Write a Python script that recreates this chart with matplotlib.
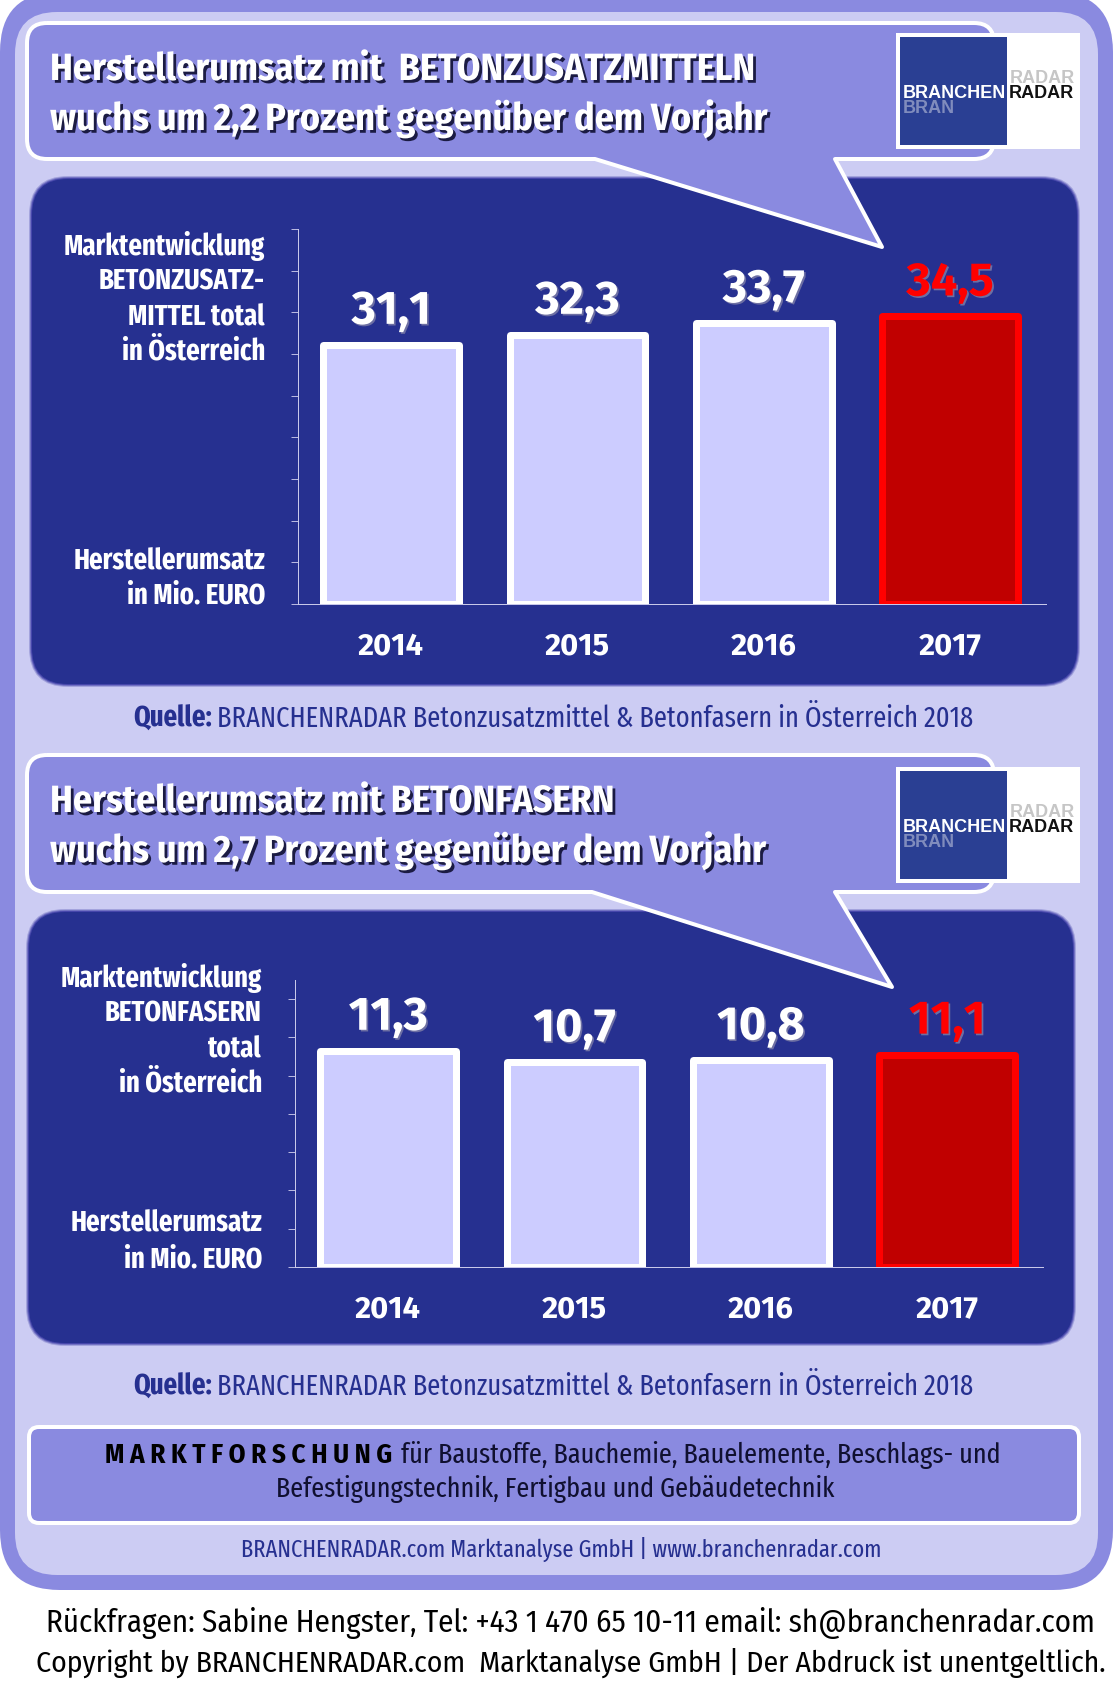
import matplotlib
matplotlib.use("Agg")
import matplotlib.pyplot as plt
import matplotlib.patheffects as pe
from matplotlib.patches import FancyBboxPatch, PathPatch, Rectangle
from matplotlib.path import Path

W, H = 1115, 1685

YEARS = ["2014", "2015", "2016", "2017"]
ZUSATZ_VALUES = [31.1, 32.3, 33.7, 34.5]
FASERN_VALUES = [11.3, 10.7, 10.8, 11.1]

ZUSATZ_LABELS = ["Marktentwicklung", "BETONZUSATZ-", "MITTEL total", "in Österreich", "Herstellerumsatz", "in Mio. EURO"]
FASERN_LABELS = ["Marktentwicklung", "BETONFASERN", "total", "in Österreich", "Herstellerumsatz", "in Mio. EURO"]
SOURCE = "BRANCHENRADAR Betonzusatzmittel & Betonfasern in Österreich 2018"

OUTER = "#8a8ae0"
INNER = "#ccccf3"
NAVY = "#263090"
BAR_FILL = "#ccccff"
RED_FILL = "#c00000"
RED = "#ff0000"

FIRA = ["Fira Sans", "Open Sans", "DejaVu Sans"]
NARROW = ["Fira Sans Condensed", "Open Sans", "DejaVu Sans"]
XNARROW = ["Fira Sans Extra Condensed", "Open Sans", "DejaVu Sans"]
LOGO_FONT = ["Liberation Sans", "DejaVu Sans"]

fig = plt.figure(figsize=(W / 100, H / 100), dpi=100, facecolor="white")
bg = fig.add_axes([0, 0, 1, 1])
bg.set_xlim(0, W)
bg.set_ylim(H, 0)
bg.axis("off")


def pt(px):
    return px * 0.72


def round_box(x0, y0, x1, y1, r, face, edge="none", lw=0, z=1, alpha=1):
    p = FancyBboxPatch((x0 + r, y0 + r), x1 - x0 - 2 * r, y1 - y0 - 2 * r,
                       boxstyle=f"round,pad={r},rounding_size={r}",
                       fc=face, ec=edge, lw=pt(lw), zorder=z, alpha=alpha)
    bg.add_patch(p)


def label(x, y, s, size, color="white", weight="normal", ha="left", shadow=None, family=NARROW, z=10, alpha=1):
    t = bg.text(x, y, s, fontsize=pt(size), color=color, fontweight=weight, ha=ha,
                va="baseline", family=family, zorder=z, alpha=alpha)
    if shadow:
        t.set_path_effects([pe.withSimplePatchShadow(offset=shadow, shadow_rgbFace="#15153a", alpha=0.95)])
    return t


def bubble(x0, y0, x1, y1, r, tail):
    a, tip, b = tail
    verts = [(x0 + r, y0), (x1 - r, y0), (x1, y0), (x1, y0 + r), (x1, y1 - r), (x1, y1), (x1 - r, y1),
             (b, y1), tip, (a, y1), (x0 + r, y1), (x0, y1), (x0, y1 - r), (x0, y0 + r), (x0, y0), (x0 + r, y0)]
    codes = [Path.MOVETO, Path.LINETO, Path.CURVE3, Path.CURVE3, Path.LINETO, Path.CURVE3, Path.CURVE3,
             Path.LINETO, Path.LINETO, Path.LINETO, Path.LINETO, Path.CURVE3, Path.CURVE3, Path.LINETO,
             Path.CURVE3, Path.CURVE3]
    bg.add_patch(PathPatch(Path(verts, codes), fc=OUTER, ec="white", lw=pt(4), joinstyle="round", zorder=4))


def soft_panel(x0, y0, x1, y1, r):
    # fake the blurred edge with a few see-through boxes
    for i, a in zip([3, 2, 1], [0.25, 0.4, 0.6]):
        round_box(x0 - i, y0 - i, x1 + i, y1 + i, r + i, "#2a2a9c", z=2, alpha=a)
    round_box(x0, y0, x1, y1, r, NAVY, z=2)


def logo(y0):
    bg.add_patch(Rectangle((896, y0), 184, 116, fc="white", ec="none", zorder=5))
    bg.add_patch(Rectangle((900, y0 + 4), 107, 108, fc="#2a3f93", ec="none", zorder=6))
    label(903, y0 + 80, "BRAN", 18, "#c8cce0", "bold", family=LOGO_FONT, z=7, alpha=0.55)
    label(1010, y0 + 50, "RADAR", 18, "#a0a0a0", "bold", family=LOGO_FONT, z=7, alpha=0.6)
    label(903, y0 + 65, "BRANCHEN", 18, "white", "bold", family=LOGO_FONT, z=8)
    label(1009, y0 + 65, "RADAR", 18, "#111111", "bold", family=LOGO_FONT, z=8)


def bar_chart(left, right, top, base, ymax, step, values):
    ax = fig.add_axes([left / W, 1 - base / H, (right - left) / W, (base - top) / H])
    ax.patch.set_alpha(0)
    colors = [BAR_FILL, BAR_FILL, BAR_FILL, RED_FILL]
    edges = ["white", "white", "white", RED]
    x = range(len(values))
    # bottom half of the border is clipped by the axes, like in the original
    ax.bar(x, values, width=0.728, color=colors, edgecolor=edges, linewidth=pt(7), joinstyle="round")
    ax.set_xlim(-0.5, 3.515)
    ax.set_ylim(0, ymax)
    ax.set_xticks(list(x), YEARS, fontsize=pt(31), fontweight="bold", color="white", family=FIRA)
    ax.set_yticks(range(0, ymax + 1, step), [])
    ax.tick_params(axis="x", length=0, pad=pt(27))
    ax.tick_params(axis="y", length=pt(7), width=pt(1), color="#b8b8e0", direction="out")
    for s in ("top", "right"):
        ax.spines[s].set_visible(False)
    for s in ("left", "bottom"):
        ax.spines[s].set_color("#c8c8ea")
        ax.spines[s].set_linewidth(pt(1))
    for i, v in enumerate(values):
        t = ax.annotate(f"{v:.1f}".replace(".", ","), (i, v), xytext=(0, pt(21)), textcoords="offset points",
                        ha="center", va="baseline", fontsize=pt(47), fontweight="bold",
                        color=RED if i == 3 else "white", family=FIRA)
        t.set_path_effects([pe.withSimplePatchShadow(offset=(1.2, -1.2), shadow_rgbFace="#8080a8", alpha=0.8)])
    return ax


# background panels
round_box(0, -8, 1113, 1590, 60, OUTER, z=0)
round_box(15, 12, 1098, 1575, 42, INNER, z=0.5)

# first block
soft_panel(32, 179, 1077, 684, 36)
bubble(27, 23, 994, 159, 20, (595, (882, 247), 835))
logo(33)
label(50, 80, "Herstellerumsatz mit  BETONZUSATZMITTELN", 38, weight="bold", shadow=(2, -2))
label(50, 130, "wuchs um 2,2 Prozent gegenüber dem Vorjahr", 38, weight="bold", shadow=(2, -2))
bar_chart(298, 1046, 229, 604, 45, 5, ZUSATZ_VALUES)
for y, s in zip([255, 289, 325, 360, 570, 604], ZUSATZ_LABELS):
    label(265, y, s, 29, weight="bold", ha="right", family=XNARROW)
label(133, 727, "Quelle:", 29, NAVY, "bold", family=XNARROW)
label(217, 727, SOURCE, 28.8, NAVY, family=XNARROW)

# second block
soft_panel(29, 912, 1073, 1343, 36)
bubble(27, 755, 994, 892, 20, (592, (892, 987), 835))
logo(767)
label(50, 812, "Herstellerumsatz mit BETONFASERN", 38, weight="bold", shadow=(2, -2))
label(50, 862, "wuchs um 2,7 Prozent gegenüber dem Vorjahr", 38, weight="bold", shadow=(2, -2))
bar_chart(295, 1043, 980, 1267, 15, 2, FASERN_VALUES)
for y, s in zip([987, 1022, 1057, 1092, 1232, 1267], FASERN_LABELS):
    label(262, y, s, 29, weight="bold", ha="right", family=XNARROW)
label(133, 1395, "Quelle:", 29, NAVY, "bold", family=XNARROW)
label(217, 1395, SOURCE, 28.8, NAVY, family=XNARROW)

# footer box
round_box(29, 1427, 1079, 1523, 10, OUTER, "white", 4, z=3)
label(105, 1463, "M A R K T F O R S C H U N G", 27, "black", "bold")
label(401, 1463, "für Baustoffe, Bauchemie, Bauelemente, Beschlags- und", 28.5, "#101030", family=XNARROW)
label(555, 1497, "Befestigungstechnik, Fertigbau und Gebäudetechnik", 28.5, "#101030", ha="center", family=XNARROW)
label(561, 1557, "BRANCHENRADAR.com Marktanalyse GmbH | www.branchenradar.com", 24.4, NAVY, ha="center", family=XNARROW)

label(46, 1632, "Rückfragen: Sabine Hengster, Tel: +43 1 470 65 10-11 email: sh@branchenradar.com", 31, "black")
label(36, 1672, "Copyright by BRANCHENRADAR.com  Marktanalyse GmbH | Der Abdruck ist unentgeltlich.", 29.7, "black")

fig.savefig("out.png", dpi=100)
plt.close(fig)
